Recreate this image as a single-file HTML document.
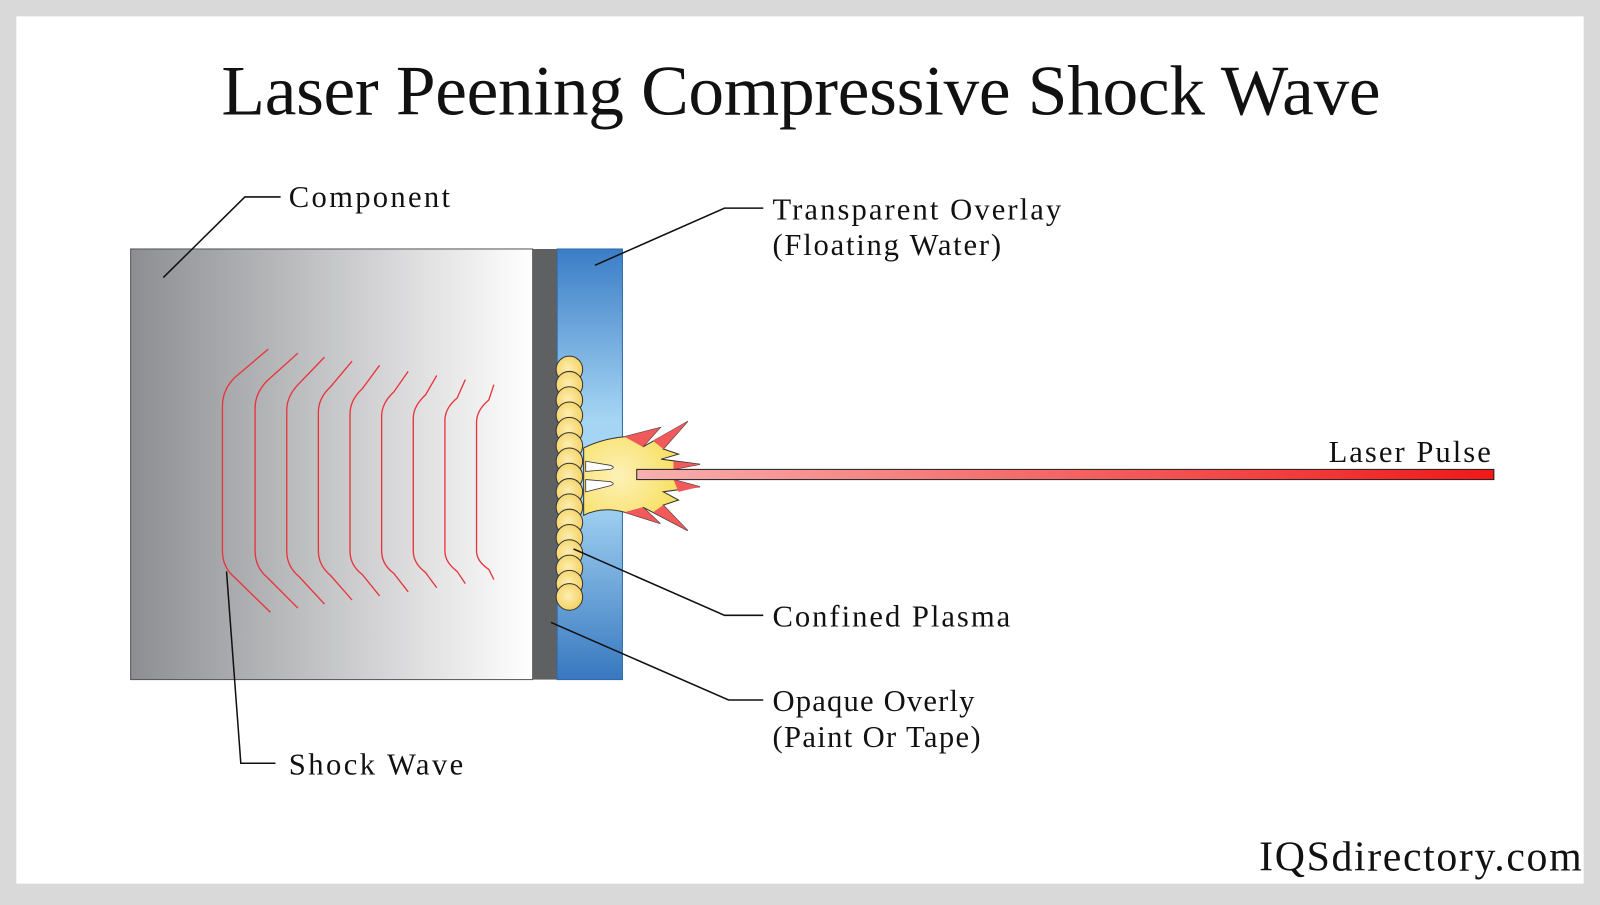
<!DOCTYPE html>
<html><head><meta charset="utf-8"><style>
html,body{margin:0;padding:0;background:#d9d9d9;width:1600px;height:900px;overflow:hidden}
#w{position:absolute;left:0;top:0;width:1568px;height:882px;transform:scale(1.020408);transform-origin:0 0}
</style></head><body><div id="w">
<svg width="1568" height="882" xmlns="http://www.w3.org/2000/svg" font-family="'Liberation Serif',serif">
<defs>
<linearGradient id="comp" x1="0" x2="1" y1="0" y2="0"><stop offset="0" stop-color="#8d8e92"/><stop offset="1" stop-color="#ffffff"/></linearGradient>
<linearGradient id="water" x1="0" x2="0" y1="0" y2="1"><stop offset="0" stop-color="#3b7dc6"/><stop offset="0.4" stop-color="#a6d6f4"/><stop offset="0.6" stop-color="#9fd0f1"/><stop offset="1" stop-color="#3878c0"/></linearGradient>
<linearGradient id="beam" x1="0" x2="1"><stop offset="0" stop-color="#f7b0b0"/><stop offset="1" stop-color="#f01818"/></linearGradient>
<radialGradient id="ball" cx="0.45" cy="0.45" r="0.6"><stop offset="0" stop-color="#fdeeb0"/><stop offset="1" stop-color="#f3cf5e"/></radialGradient>
<radialGradient id="fl" cx="0.3" cy="0.5" r="0.7"><stop offset="0" stop-color="#fdf1b8"/><stop offset="1" stop-color="#f6d944"/></radialGradient>
</defs>
<rect x="16" y="16" width="1536" height="850" fill="#fff"/>
<text x="217" y="112" font-size="70" textLength="1136" lengthAdjust="spacing" fill="#111">Laser Peening Compressive Shock Wave</text>
<rect x="128" y="244" width="394" height="422" fill="url(#comp)" stroke="#555" stroke-width="1"/>
<rect x="522" y="244" width="24" height="422" fill="#5f6062"/>
<rect x="546" y="244" width="64" height="422" fill="url(#water)" stroke="#2f6aa8" stroke-width="1"/>
<g fill="none" stroke="#e8333a" stroke-width="1.3">
<path d="M263,342 L230,370 Q218,382 218,398 L218,540 Q218,556 230,566 L265,600"/>
<path d="M292,346 L262,373 Q250,385 250,400 L250,540 Q250,556 262,566 L292,596"/>
<path d="M318,350 L293,376 Q281,388 281,402 L281,540 Q281,555 293,565 L318,592"/>
<path d="M345,354 L324,379 Q312,390 312,404 L312,540 Q312,554 324,564 L345,588"/>
<path d="M372,358 L355,381 Q343,392 343,406 L343,540 Q343,554 355,563 L372,584"/>
<path d="M400,364 L386,384 Q374,395 374,408 L374,540 Q374,553 386,562 L400,580"/>
<path d="M428,368 L417,387 Q405,398 405,410 L405,540 Q405,552 417,561 L428,576"/>
<path d="M456,372 L448,390 Q436,400 436,412 L436,540 Q436,551 448,560 L456,572"/>
<path d="M484,377 L479,392 Q467,402 467,414 L467,540 Q467,550 479,558 L484,568"/>
</g>
<g fill="url(#ball)" stroke="#333" stroke-width="1">
<circle cx="558" cy="362" r="13"/><circle cx="558" cy="377" r="13"/><circle cx="558" cy="392" r="13"/><circle cx="558" cy="407" r="13"/><circle cx="558" cy="422" r="13"/><circle cx="558" cy="437" r="13"/><circle cx="558" cy="452" r="13"/><circle cx="558" cy="467" r="13"/><circle cx="558" cy="482" r="13"/><circle cx="558" cy="497" r="13"/><circle cx="558" cy="512" r="13"/><circle cx="558" cy="527" r="13"/><circle cx="558" cy="542" r="13"/><circle cx="558" cy="557" r="13"/><circle cx="558" cy="572" r="13"/><circle cx="558" cy="585" r="13"/>
</g>
<path d="M572,439 Q590,430 612,428 L647,419 L630,438 L674,413 L650,440 L665,445 L648,450 L686,455 L660,460 L686,465 L660,470 L686,477 L650,482 L665,490 L650,495 L674,520 L630,497 L647,513 L612,502 Q590,496 572,505 Z" fill="url(#fl)" stroke="#333" stroke-width="1"/>
<path d="M612,428 L647,419 L630,438 Z M674,413 L650,440 L640,432 Z M686,455 L660,460 L660,452Z M686,477 L660,470 L665,482Z M674,520 L650,495 L640,502Z M612,502 L647,513 L630,497Z" fill="#f05a5a"/>
<path d="M574,452 L598,456 Q604,458 598,460 L574,462 Z M574,470 L598,472 Q604,474 598,476 L574,482 Z" fill="#fff" stroke="#333" stroke-width="0.8"/>
<rect x="624" y="460" width="840" height="10" fill="url(#beam)" stroke="#222" stroke-width="1"/>
<g fill="none" stroke="#111" stroke-width="1.5">
<polyline points="160,272 240,193 275,193"/>
<polyline points="583,260 710,204 748,204"/>
<polyline points="562,538 710,603 748,603"/>
<polyline points="540,610 714,686 748,686"/>
<polyline points="222,560 236,748 270,748"/>
</g>
<g font-size="30" fill="#111" lengthAdjust="spacing">
<text x="283" y="203" textLength="158" lengthAdjust="spacing">Component</text>
<text x="757" y="215" textLength="283" lengthAdjust="spacing">Transparent Overlay</text>
<text x="757" y="250" textLength="224" lengthAdjust="spacing">(Floating Water)</text>
<text x="757" y="614" textLength="233" lengthAdjust="spacing">Confined Plasma</text>
<text x="757" y="697" textLength="198" lengthAdjust="spacing">Opaque Overly</text>
<text x="757" y="732" textLength="204" lengthAdjust="spacing">(Paint Or Tape)</text>
<text x="283" y="759" textLength="171" lengthAdjust="spacing">Shock Wave</text>
<text x="1302" y="453" textLength="159" lengthAdjust="spacing">Laser Pulse</text>
</g>
<text x="1234" y="853" font-size="41" textLength="316" lengthAdjust="spacing" fill="#111">IQSdirectory.com</text>
</svg>
</div></body></html>
